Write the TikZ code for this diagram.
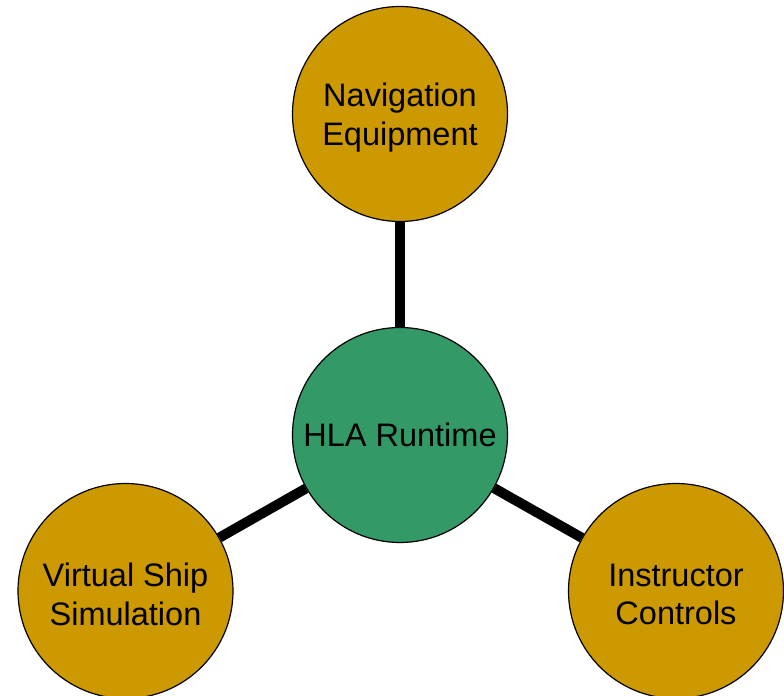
\documentclass[tikz,border=0pt]{standalone}
\usepackage{fontspec}
\setmainfont{Liberation Sans}
\usepackage{tikz}
\definecolor{gold}{HTML}{CC9900}
\definecolor{hlagreen}{HTML}{339966}

\begin{document}
\begin{tikzpicture}[x=1bp,y=1bp,-]
                \useasboundingbox (0,0) rectangle (784,696);
                \tikzstyle{vertex}=[circle,draw=black,line width=1.2bp,fill=gold,minimum size=215bp,inner sep=0pt,align=center,font=\fontsize{32.5bp}{38.5bp}\selectfont]
                \tikzstyle{caption}=[align=center,font=\fontsize{32.5bp}{38.5bp}\selectfont,yshift=-3.5bp]
                \foreach \name/\x/\y/\txt in {nav/400/582/{Navigation\\Equipment}, ship/125.5/105/{Virtual Ship\\Simulation}, instr/676/105/{Instructor\\Controls}}
                        \node[vertex,label={[caption]center:\txt}] (V-\name) at (\x,\y) {};

                    \node[vertex,fill=hlagreen] (V-hla) at (400,261) {HLA Runtime};

                    \foreach \to in {nav, ship, instr}
                        \draw[line width=10bp] (V-hla) -- (V-\to);
            \end{tikzpicture}
\end{document}
